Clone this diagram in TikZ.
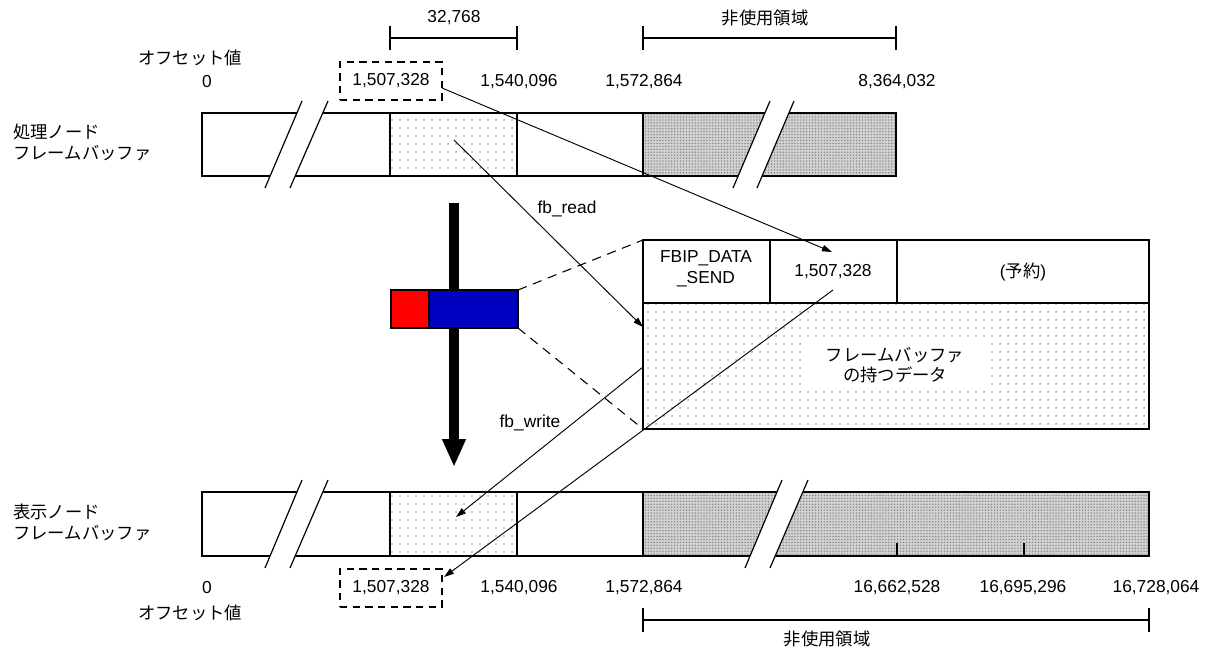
\documentclass[tikz,border=0pt]{standalone}
\usepackage{fontspec}
\setmainfont{Liberation Sans}
\newfontfamily\jpfont{Noto Sans CJK JP}
\usepackage{xcolor}
\usepackage{tikz}
\usetikzlibrary{arrows.meta,patterns.meta}
\definecolor{cmdred}{RGB}{255,0,0}
\definecolor{cmdblue}{RGB}{0,0,192}

\begin{document}
\begin{tikzpicture}[x=0.75pt,y=0.75pt,yscale=-1,xscale=1,
    txt/.style={inner sep=0.75pt,font=\fontsize{13pt}{15.75pt}\selectfont},
    jtxt/.style={inner sep=0.75pt,font=\fontsize{13pt}{15.75pt}\selectfont\jpfont},
    frame/.style={line width=0.9pt},
    dotfill/.style={line width=0.9pt,pattern={Dots[distance=6pt,radius=0.55pt]},pattern color=black!85},
    greyfill/.style={line width=0.9pt,preaction={fill=gray!35},pattern={Dots[distance=2.2pt,radius=0.6pt]},pattern color=gray!95},
    dashbox/.style={draw,line width=0.9pt,dash pattern=on 5.5pt off 4pt,minimum width=76.5pt,minimum height=28.5pt,inner sep=0pt},
    conn/.style={line width=0.7pt,-{Triangle[length=7.5pt,width=4.8pt]}},
    zoomline/.style={line width=0.8pt,dash pattern=on 7pt off 5pt}]
        \useasboundingbox (0,0) rectangle (1205,648);

        % processing node frame buffer
        \draw[dotfill]  (390,113) rectangle (517,176);
        \draw[greyfill] (643,113) rectangle (896,176);
        \draw[frame]    (202,113) -- (896,113) -- (896,176) -- (202,176) -- cycle ;
        \fill[white] (302,101) -- (328,101) -- (290,188) -- (265,188) -- cycle ;
        \draw[frame] (302,101) -- (265,188) (328,101) -- (290,188) ;
        \fill[white] (770,101) -- (794,101) -- (757,188) -- (733,188) -- cycle ;
        \draw[frame] (770,101) -- (733,188) (794,101) -- (757,188) ;

        % display node frame buffer
        \draw[dotfill]  (390,492) rectangle (517,556);
        \draw[greyfill] (643,492) rectangle (1149,556);
        \draw[frame]    (202,492) -- (1149,492) -- (1149,556) -- (202,556) -- cycle ;
        \draw[frame] (897,543) -- (897,556) (1024,543) -- (1024,556) ;
        \fill[white] (302,480) -- (328,480) -- (290,568) -- (265,568) -- cycle ;
        \draw[frame] (302,480) -- (265,568) (328,480) -- (290,568) ;
        \fill[white] (782,480) -- (808,480) -- (770,568) -- (745,568) -- cycle ;
        \draw[frame] (782,480) -- (745,568) (808,480) -- (770,568) ;

        % brackets
        \draw[frame] (390,38) -- (517,38) (390,26) -- (390,50) (517,26) -- (517,50) ;
        \draw[frame] (643,38) -- (896,38) (643,26) -- (643,50) (896,26) -- (896,50) ;
        \draw[frame] (643,620) -- (1149,620) (643,608) -- (643,632) (1149,608) -- (1149,632) ;

        % packet
        \draw[dotfill] (643,303) rectangle (1149,429);
        \draw[frame] (643,240) -- (1149,240) -- (1149,429) -- (643,429) -- cycle ;
        \draw[frame] (643,303) -- (1149,303) (770,240) -- (770,303) (897,240) -- (897,303) ;

        % transfer arrow and command
        \draw[line width=7.5pt,-{Triangle[length=21pt,width=16.5pt]}] (454,203) -- (454,467);
        \draw[frame,fill=cmdred]  (391,290) rectangle (429,328);
        \draw[frame,fill=cmdblue] (429,290) rectangle (518,328);
        \coordinate (cmdTop) at (518,290);
        \coordinate (cmdBot) at (518,328);
        \coordinate (pktTop) at (643,240);
        \coordinate (pktBot) at (643,429);
        \draw[zoomline] (cmdTop) -- (pktTop) (cmdBot) -- (pktBot) ;

        % texts
        \draw (454,18) node (lenTop) [txt] {32,768};
        \draw (765,18) node (unusedTop) [jtxt] {非使用領域};
        \draw (190,58) node (ofsTop) [jtxt] {オフセット値};
        \draw (207,82) node (zeroTop) [txt] {0};
        \draw (391,81) node (srcBox) [dashbox,txt] {1,507,328};
        \draw (519,82) node (endTop) [txt] {1,540,096};
        \draw (644,82) node (freeTop) [txt] {1,572,864};
        \draw (897,82) node (lastTop) [txt] {8,364,032};
        \draw (12,142) node (procLbl) [jtxt,anchor=west,align=left] {処理ノード\\フレームバッファ};

        \draw (12,522) node (dispLbl) [jtxt,anchor=west,align=left] {表示ノード\\フレームバッファ};
        \draw (207,588) node (zeroBot) [txt] {0};
        \draw (391,588) node (dstBox) [dashbox,txt] {1,507,328};
        \draw (519,588) node (endBot) [txt] {1,540,096};
        \draw (644,588) node (freeBot) [txt] {1,572,864};
        \draw (897,588) node (lastA) [txt] {16,662,528};
        \draw (1023,588) node (lastB) [txt] {16,695,296};
        \draw (1156,588) node (lastC) [txt] {16,728,064};
        \draw (190,613) node (ofsBot) [jtxt] {オフセット値};
        \draw (827,639) node (unusedBot) [jtxt] {非使用領域};

        \draw (706,269) node (hdrCmd) [txt,align=center] {FBIP\_DATA\\\_SEND};
        \draw (833,272) node (hdrOfs) [txt] {1,507,328};
        \draw (1023,272) node (hdrRsv) [txt] {(\jpfont 予約\rmfamily)};
        \draw (895,365) node (pktData) [jtxt,fill=white,align=center,minimum width=139.5pt,minimum height=34.5pt,font=\fontsize{13pt}{14.5pt}\selectfont\jpfont] {フレームバッファ\\の持つデータ};
        \draw (567,209) node (lblRead) [txt] {fb\_read};
        \draw (530,423) node (lblWrite) [txt] {fb\_write};

        % connectors
        \coordinate (srcOut) at (442,88);
        \coordinate (hdrIn) at (832,252);
        \coordinate (hdrOut) at (833,290);
        \coordinate (dstIn) at (444,577);
        \coordinate (rdSrc) at (454,140);
        \coordinate (rdDst) at (643,327);
        \coordinate (wrSrc) at (643,367);
        \coordinate (wrDst) at (456,517);
        \draw[conn] (srcOut) -- (hdrIn);
        \draw[conn] (hdrOut) -- (dstIn);
        \draw[conn] (rdSrc) -- (rdDst);
        \draw[conn] (wrSrc) -- (wrDst);
\end{tikzpicture}
\end{document}
